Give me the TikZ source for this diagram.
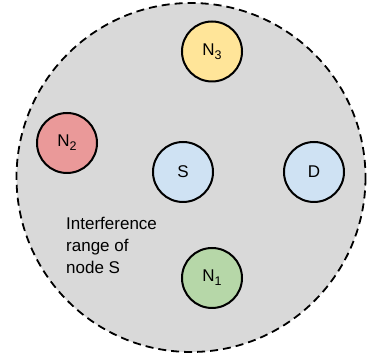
\documentclass[tikz,border=0pt]{standalone}
\usepackage{fontspec}
\setmainfont{Liberation Sans}
\definecolor{rangegray}{HTML}{D9D9D9}
\definecolor{nodeblue}{HTML}{CFE2F3}
\definecolor{nodered}{HTML}{EA9999}
\definecolor{nodeyellow}{HTML}{FFE599}
\definecolor{nodegreen}{HTML}{B6D7A8}
\newcommand{\lowsub}[1]{\raisebox{-0.45ex}{\fontsize{12.5}{14}\selectfont #1}}
\tikzset{
  station/.style={circle, draw=black, line width=2pt, minimum size=60pt, inner sep=0pt, font=\fontsize{17}{20}\selectfont},
  rangecircle/.style={draw=black, fill=rangegray, line width=1.8pt, dash pattern=on 8pt off 5pt},
}
\begin{document}
\begin{tikzpicture}[x=1pt, y=-1pt]
  \useasboundingbox (0,0) rectangle (376,358);
  % interference range of S
  \draw[rangecircle] (191,177.5) circle (174.5);
  % stations
  \node[station, fill=nodeyellow] (n3) at (212,51.5) {N\lowsub{3}};
  \node[station, fill=nodered]    (n2) at (67,143)   {N\lowsub{2}};
  \node[station, fill=nodeblue]   (s)  at (183,172)  {S};
  \node[station, fill=nodeblue]   (d)  at (314,172)  {D};
  \node[station, fill=nodegreen]  (n1) at (212,278)  {N\lowsub{1}};
  % label
  \node[anchor=north west, align=left, inner sep=0pt, font=\fontsize{17}{22}\selectfont] (lbl) at (66,217)
    {Interference\\range of\\node S};
\end{tikzpicture}
\end{document}
